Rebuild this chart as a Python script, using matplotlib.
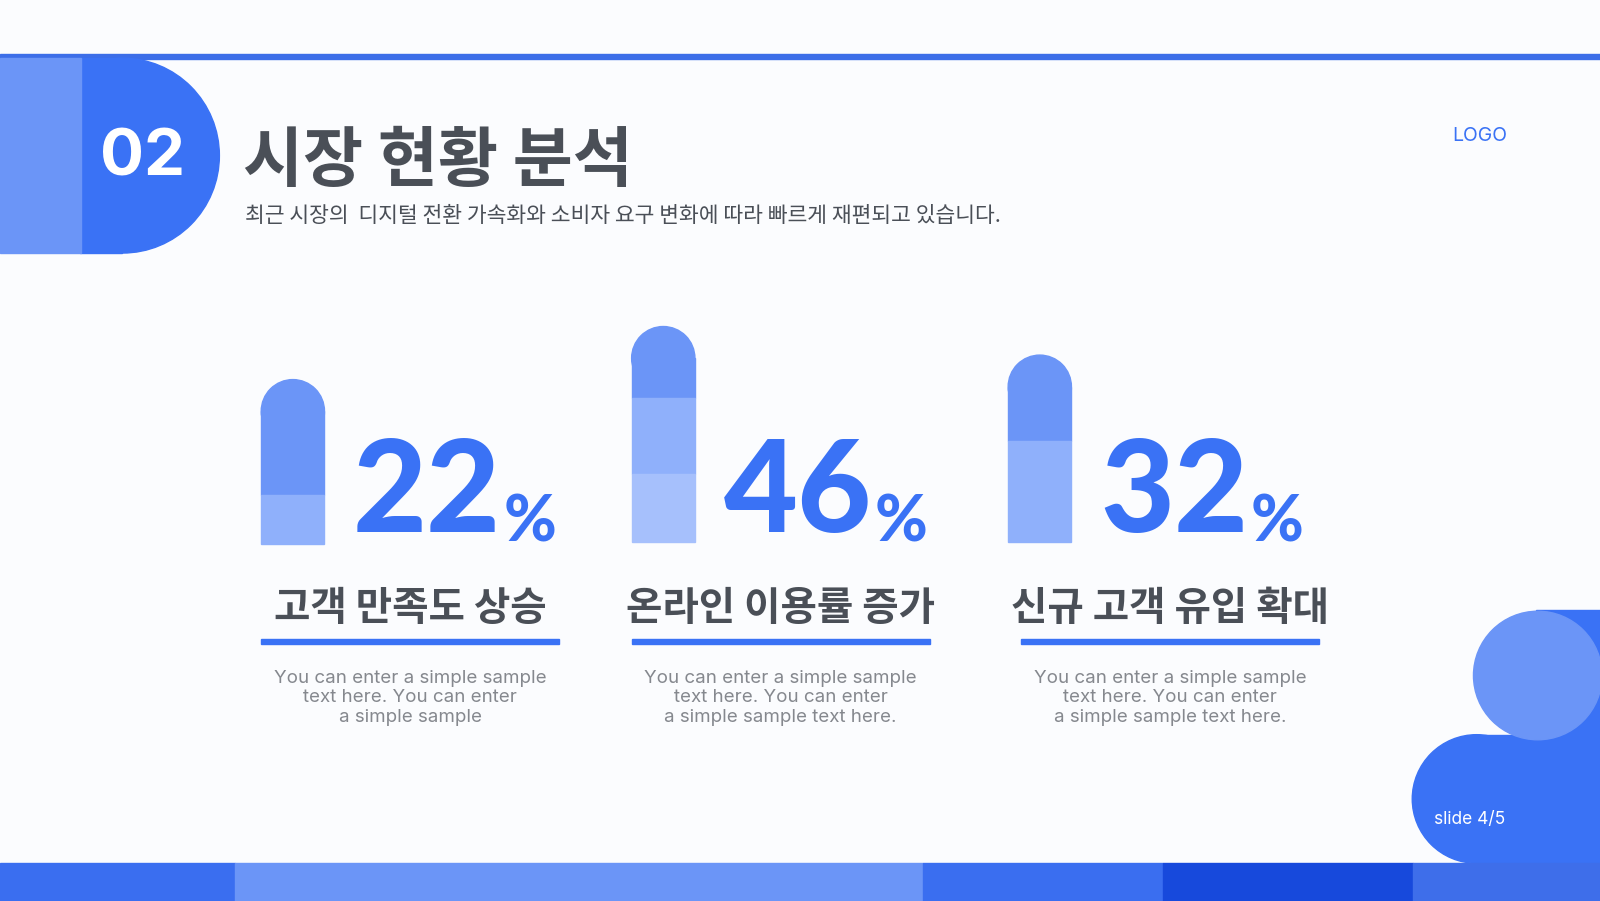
import matplotlib.pyplot as plt
from matplotlib.patches import Rectangle, Circle, Ellipse

plt.rcParams['font.family'] = ['Noto Sans CJK KR', 'DejaVu Sans']

# data
values = [22, 46, 32]
labels = ['고객 만족도 상승', '온라인 이용률 증가', '신규 고객 유입 확대']
descs = ['You can enter a simple sample\ntext here. You can enter\na simple sample',
         'You can enter a simple sample\ntext here. You can enter\na simple sample text here.',
         'You can enter a simple sample\ntext here. You can enter\na simple sample text here.']
# pill segment boundaries (y, top of pill first)
segments = [[372, 485, 533], [320, 390, 465, 531], [348, 432, 531]]
bar_x = [256, 619, 988]
centers = [402, 765, 1147]

BLUE = '#3a72f5'
MID = '#6b95f7'
LIGHT = '#8fb0fb'
LIGHTER = '#a6c0fc'
DARK = '#4a4f57'
GRAY = '#85888e'

fig = plt.figure(figsize=(16, 9.01), dpi=100)
ax = fig.add_axes([0, 0, 1, 1])
# layout units: reference at 1568 x 883
ax.set_xlim(0, 1568)
ax.set_ylim(883, 0)
ax.axis('off')
fig.patch.set_facecolor('#fbfcfe')

# top line
ax.add_patch(Rectangle((0, 53), 1568, 5, color='#3c6ee8'))
# header block
ax.add_patch(Rectangle((78, 57), 42, 191, color=BLUE))
ax.add_patch(Ellipse((120, 152.5), 190, 191, color=BLUE))
ax.add_patch(Rectangle((0, 57), 79, 191, color=MID))
ax.text(140, 155, '02', color='white', fontsize=47, fontweight='bold',
        family='Inter', ha='center', va='center')
ax.text(238, 158, '시장 현황 분석', color=DARK, fontsize=47, fontweight='black',
        ha='left', va='center')
ax.text(240, 212, '최근 시장의  디지털 전환 가속화와 소비자 요구 변화에 따라 빠르게 재편되고 있습니다.',
        color=DARK, fontsize=15.5, fontweight='medium', ha='left', va='center')
ax.text(1450, 133, 'LOGO', color=BLUE, fontsize=14, family='Inter', ha='center', va='center')

seg_colors = [MID, LIGHT, LIGHTER]
w = 62
for i in range(3):
    x0 = bar_x[i]
    seg = segments[i]
    for j in range(len(seg) - 1):
        top, bot = seg[j], seg[j + 1]
        c = seg_colors[j]
        if j == 0:
            ax.add_patch(Circle((x0 + w / 2, top + w / 2), w / 2, color=c))
            ax.add_patch(Rectangle((x0, top + w / 2), w, bot - top - w / 2, color=c))
        else:
            ax.add_patch(Rectangle((x0, top), w, bot - top, color=c))
    num = ax.text(x0 + 90, 521, str(values[i]), color=BLUE, fontsize=92, fontweight='black',
                  family='Lato', ha='left', va='baseline')
    ax.annotate('%', xy=(1, 0), xycoords=num, xytext=(2, 0), textcoords='offset points',
                color=BLUE, fontsize=46, fontweight='black', family='Lato',
                ha='left', va='bottom')
    cx = centers[i]
    ax.text(cx, 596, labels[i], color=DARK, fontsize=28.5, fontweight='bold',
            ha='center', va='center')
    ax.add_patch(Rectangle((cx - 146, 626), 292, 5, color=BLUE))
    ax.text(cx, 684, descs[i], color=GRAY, fontsize=13.5, family='Inter',
            ha='center', va='center', linespacing=1.2)

# bottom right decoration
ax.add_patch(Rectangle((1505, 598), 63, 130, color=BLUE))
ax.add_patch(Rectangle((1447, 720), 121, 126, color=BLUE))
ax.add_patch(Circle((1447, 783), 63, color=BLUE))
ax.add_patch(Circle((1507, 662), 63, color=MID))
ax.text(1405, 803, 'slide 4/5', color='white', fontsize=12.5, family='Inter',
        ha='left', va='center')

# bottom strip
strip_edges = [0, 230, 905, 1140, 1385, 1568]
strip_colors = ['#3a6ef0', MID, '#3a6ef0', '#1749dc', '#3e6eea']
for k in range(5):
    ax.add_patch(Rectangle((strip_edges[k], 846), strip_edges[k + 1] - strip_edges[k], 40,
                           color=strip_colors[k]))

fig.savefig('out.png', dpi=100, facecolor=fig.get_facecolor())
